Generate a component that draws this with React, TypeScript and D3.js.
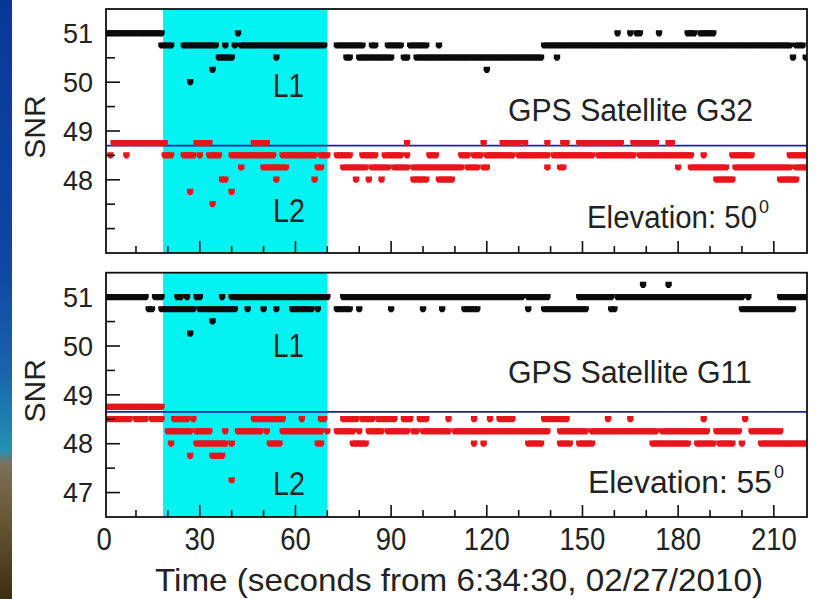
import React from 'react';
import * as d3 from 'd3';

type Run = [number, number, number]; // [first second, last second, SNR]

// ---------- Data ----------
// G32, L1 (black, top panel)
const g32L1Runs: Run[] = [
  [1, 18, 51], [18, 21, 50.75], [25, 35, 50.75], [38, 38, 50.75], [41, 41, 50.75], [43, 69, 50.75],
  [36, 40, 50.5], [42, 42, 51], [34, 34, 50.25], [27, 27, 50], [54, 54, 50.5],
  [73, 81, 50.75], [84, 85, 50.75], [76, 77, 50.5], [80, 90, 50.5], [89, 93, 50.75], [96, 101, 50.75],
  [94, 95, 50.5], [105, 105, 50.75], [98, 137, 50.5], [120, 120, 50.25], [142, 142, 50.5],
  [138, 215, 50.75], [217, 219, 50.75], [216, 216, 50.5], [220, 220, 50.5],
  [161, 161, 51], [165, 165, 51], [167, 168, 51], [174, 174, 51], [183, 185, 51], [187, 191, 51],
];
// G32, L2 (red, top panel)
const g32L2Runs: Run[] = [
  [3, 19, 48.75], [29, 33, 48.75], [47, 51, 48.75],
  [2, 2, 48.5], [7, 7, 48.5], [19, 21, 48.5], [25, 28, 48.5], [30, 30, 48.5], [33, 36, 48.5],
  [40, 47, 48.5], [48, 53, 48.5], [56, 66, 48.5], [68, 70, 48.5], [73, 77, 48.5],
  [43, 43, 48.25], [50, 57, 48.25], [67, 68, 48.25],
  [37, 38, 48], [54, 54, 48], [66, 66, 48],
  [27, 27, 47.75], [40, 40, 47.75], [34, 34, 47.5],
  [95, 95, 48.75], [119, 119, 48.75], [125, 130, 48.75], [132, 132, 48.75], [139, 139, 48.75],
  [144, 145, 48.75], [149, 162, 48.75], [166, 173, 48.75], [177, 178, 48.75],
  [81, 85, 48.5], [88, 93, 48.5], [95, 95, 48.5], [102, 104, 48.5], [112, 114, 48.5], [116, 118, 48.5],
  [120, 128, 48.5], [130, 139, 48.5], [141, 153, 48.5], [155, 166, 48.5], [168, 184, 48.5],
  [188, 188, 48.5], [197, 203, 48.5], [215, 220, 48.5],
  [75, 82, 48.25], [84, 89, 48.25], [91, 95, 48.25], [97, 112, 48.25], [114, 117, 48.25], [119, 120, 48.25],
  [139, 139, 48.25], [143, 144, 48.25], [180, 180, 48.25], [184, 195, 48.25], [198, 215, 48.25], [217, 220, 48.25],
  [79, 79, 48], [83, 83, 48], [87, 87, 48], [97, 101, 48], [105, 109, 48], [192, 197, 48], [212, 217, 48],
];
// G11, L1 (black, bottom panel)
const g11L1Runs: Run[] = [
  [1, 13, 51], [16, 18, 51], [23, 24, 51], [26, 26, 51], [29, 30, 51], [37, 37, 51], [40, 70, 51],
  [75, 131, 51], [133, 139, 51], [149, 159, 51], [161, 200, 51], [202, 202, 51], [212, 220, 51],
  [14, 15, 50.75], [18, 28, 50.75], [30, 41, 50.75], [45, 45, 50.75], [50, 50, 50.75], [54, 54, 50.75],
  [59, 65, 50.75], [67, 67, 50.75], [73, 77, 50.75], [80, 80, 50.75], [90, 90, 50.75], [100, 100, 50.75],
  [106, 106, 50.75], [113, 117, 50.75], [133, 133, 50.75], [138, 151, 50.75], [159, 160, 50.75],
  [200, 215, 50.75], [216, 216, 50.75],
  [34, 34, 50.5], [27, 27, 50.25], [169, 169, 51.25], [177, 177, 51.25],
];
// G11, L2 (red, bottom panel)
const g11L2Runs: Run[] = [
  [1, 18, 48.75],
  [1, 8, 48.5], [10, 13, 48.5], [15, 18, 48.5], [22, 26, 48.5], [28, 28, 48.5], [47, 56, 48.5],
  [62, 62, 48.5], [68, 69, 48.5], [75, 79, 48.5], [81, 84, 48.5], [86, 91, 48.5], [94, 96, 48.5],
  [99, 101, 48.5], [108, 108, 48.5], [116, 116, 48.5], [121, 121, 48.5], [124, 128, 48.5],
  [138, 145, 48.5], [158, 158, 48.5], [165, 165, 48.5], [188, 188, 48.5], [201, 201, 48.5],
  [20, 27, 48.25], [29, 33, 48.25], [38, 38, 48.25], [42, 49, 48.25], [51, 51, 48.25], [56, 68, 48.25],
  [70, 70, 48.25], [73, 78, 48.25], [80, 80, 48.25], [83, 87, 48.25], [89, 95, 48.25], [97, 98, 48.25],
  [100, 108, 48.25], [110, 116, 48.25], [117, 139, 48.25], [143, 151, 48.25], [153, 173, 48.25],
  [175, 189, 48.25], [192, 199, 48.25], [203, 212, 48.25],
  [21, 21, 48], [29, 38, 48], [40, 40, 48], [52, 55, 48], [67, 68, 48], [78, 82, 48], [116, 116, 48],
  [119, 119, 48], [133, 137, 48], [143, 146, 48], [149, 153, 48], [172, 183, 48], [186, 191, 48],
  [193, 197, 48], [200, 200, 48], [206, 220, 48],
  [27, 27, 47.75], [34, 37, 47.75], [40, 40, 47.25],
];

const xTickLabels = [0, 30, 60, 90, 120, 150, 180, 210];
const xMinorTicks = [10, 20, 40, 50, 70, 80, 100, 110, 130, 140, 160, 170, 190, 200];
const yMajorTop = [48, 49, 50, 51];
const yMinorTop = [47, 47.5, 48.5, 49.5, 50.5];
const yMajorBottom = [47, 48, 49, 50, 51];
const yMinorBottom = [47.5, 48.5, 49.5, 50.5];
const shadedInterval = [18.5, 70];
const refLevels = [48.7, 48.65];
const satelliteNames = ['GPS Satellite G32', 'GPS Satellite G11'];
const elevations = ['50', '55'];
const xTitle = 'Time (seconds from 6:34:30, 02/27/2010)';

const FONT = '"Liberation Sans", Arial, Helvetica, sans-serif';
const TXT = '#222222';

function expand(runs: Run[]) {
  const pts: { t: number; v: number }[] = [];
  runs.forEach(([a, b, v]) => {
    for (let t = a; t <= b; t++) pts.push({ t, v });
  });
  return pts;
}

function marker(cx: number, cy: number) {
  return `M${cx - 3.2},${cy - 3.2}h6.4v3.8l-1.7,2.4h-3l-1.7,-2.4z`;
}

type PanelProps = {
  top: number;
  bottom: number;
  l1: Run[];
  l2: Run[];
  refLevel: number;
  major: number[];
  minor: number[];
  sat: string;
  elev: string;
  layout: {
    l1: [number, number]; l2: [number, number]; sat: [number, number]; satW: number;
    elev: [number, number]; elevW: number;
  };
};

const x = d3.scaleLinear().domain([0.6, 220.4]).range([106, 807]);

function Panel(p: PanelProps) {
  const y = d3.scaleLinear().domain([46.5, 51.5]).range([p.bottom, p.top]);
  const left = x.range()[0];
  const right = x.range()[1];
  const l1 = expand(p.l1);
  const l2 = expand(p.l2);
  const clipId = `clip-${Math.round(p.top)}`;
  return (
    <g>
      <defs>
        <clipPath id={clipId}>
          <rect x={left} y={p.top} width={right - left} height={p.bottom - p.top} />
        </clipPath>
      </defs>
      <rect
        x={x(shadedInterval[0])}
        y={p.top}
        width={x(shadedInterval[1]) - x(shadedInterval[0])}
        height={p.bottom - p.top}
        fill="#03F2F2"
      />
      <line x1={left} x2={right} y1={y(p.refLevel)} y2={y(p.refLevel)} stroke="#1d22a8" strokeWidth={1.7} />
      <g clipPath={`url(#${clipId})`}>
        {l1.map((d, i) => (
          <path key={'a' + i} d={marker(x(d.t), y(d.v))} fill="#0b0b0b" />
        ))}
        {l2.map((d, i) => (
          <path key={'b' + i} d={marker(x(d.t), y(d.v))} fill="#e8141c" />
        ))}
      </g>
      <rect x={left} y={p.top} width={right - left} height={p.bottom - p.top} fill="none" stroke="#111" strokeWidth={1.8} />
      {p.major.map((v) => (
        <line key={'ym' + v} x1={left} x2={left + 14} y1={y(v)} y2={y(v)} stroke="#111" strokeWidth={1.6} />
      ))}
      {p.minor.map((v) => (
        <line key={'yn' + v} x1={left} x2={left + 9} y1={y(v)} y2={y(v)} stroke="#111" strokeWidth={1.6} />
      ))}
      {xTickLabels.filter((t) => x(t) > left + 1).map((t) => (
        <line key={'xm' + t} x1={x(t)} x2={x(t)} y1={p.bottom} y2={p.bottom - 12} stroke="#111" strokeWidth={1.6} />
      ))}
      {xMinorTicks.map((t) => (
        <line key={'xn' + t} x1={x(t)} x2={x(t)} y1={p.bottom} y2={p.bottom - 7} stroke="#111" strokeWidth={1.6} />
      ))}
      {p.major.map((v) => (
        <text key={'yl' + v} x={93} y={y(v) + 9.7} textAnchor="end" fontSize={27} fontFamily={FONT} fill={TXT}>
          {v}
        </text>
      ))}
      <text
        transform={`translate(45,${(p.top + p.bottom) / 2 - 4}) rotate(-90)`}
        textAnchor="middle"
        fontSize={30}
        fontFamily={FONT}
        fill={TXT}
      >
        SNR
      </text>
      <text x={p.layout.l1[0]} y={p.layout.l1[1]} fontSize={34} fontFamily={FONT} fill={TXT} textLength={31} lengthAdjust="spacingAndGlyphs">L1</text>
      <text x={p.layout.l2[0]} y={p.layout.l2[1]} fontSize={34} fontFamily={FONT} fill={TXT} textLength={32} lengthAdjust="spacingAndGlyphs">L2</text>
      <text x={p.layout.sat[0]} y={p.layout.sat[1]} fontSize={31} fontFamily={FONT} fill={TXT} textLength={p.layout.satW} lengthAdjust="spacingAndGlyphs">
        {p.sat}
      </text>
      <text x={p.layout.elev[0]} y={p.layout.elev[1]} fontSize={31} fontFamily={FONT} fill={TXT}>
        <tspan textLength={p.layout.elevW} lengthAdjust="spacingAndGlyphs">{`Elevation: ${p.elev}`}</tspan>
        <tspan dx={2} dy={-15} fontSize={18}>0</tspan>
      </text>
    </g>
  );
}

export default function App() {
  const W = 819;
  const H = 599;
  return (
    <svg
      width={W}
      height={H}
      viewBox={`0 0 ${W} ${H}`}
      style={{ position: 'absolute', left: 0, top: 0, display: 'block' }}
    >
      <defs>
        <linearGradient id="strip" x1="0" y1="0" x2="0" y2="1">
          <stop offset="0" stopColor="#08379a" />
          <stop offset="0.45" stopColor="#0f47a2" />
          <stop offset="0.62" stopColor="#1a64ac" />
          <stop offset="0.75" stopColor="#2290b4" />
          <stop offset="0.775" stopColor="#7d7058" />
          <stop offset="0.86" stopColor="#6a5838" />
          <stop offset="1" stopColor="#3e2e12" />
        </linearGradient>
      </defs>
      <rect x={0} y={0} width={W} height={H} fill="#ffffff" />
      <rect x={0} y={0} width={12} height={H} fill="url(#strip)" />
      <Panel
        top={9}
        bottom={253}
        l1={g32L1Runs}
        l2={g32L2Runs}
        refLevel={refLevels[0]}
        major={yMajorTop}
        minor={yMinorTop}
        sat={satelliteNames[0]}
        elev={elevations[0]}
        layout={{
          l1: [273, 97], l2: [273, 222], sat: [508, 121], satW: 245,
          elev: [587, 228], elevW: 170,
        }}
      />
      <Panel
        top={272.7}
        bottom={517}
        l1={g11L1Runs}
        l2={g11L2Runs}
        refLevel={refLevels[1]}
        major={yMajorBottom}
        minor={yMinorBottom}
        sat={satelliteNames[1]}
        elev={elevations[1]}
        layout={{
          l1: [273, 357], l2: [273, 495], sat: [508, 383], satW: 244,
          elev: [588, 493], elevW: 184,
        }}
      />
      {xTickLabels.map((t) => (
        <text
          key={'xl' + t}
          transform={`translate(${x(t)},550) scale(0.86,1)`}
          textAnchor="middle"
          fontSize={32}
          fontFamily={FONT}
          fill={TXT}
        >
          {t}
        </text>
      ))}
      <text x={155} y={591} fontSize={32} fontFamily={FONT} fill={TXT} textLength={608} lengthAdjust="spacingAndGlyphs">
        {xTitle}
      </text>
    </svg>
  );
}
